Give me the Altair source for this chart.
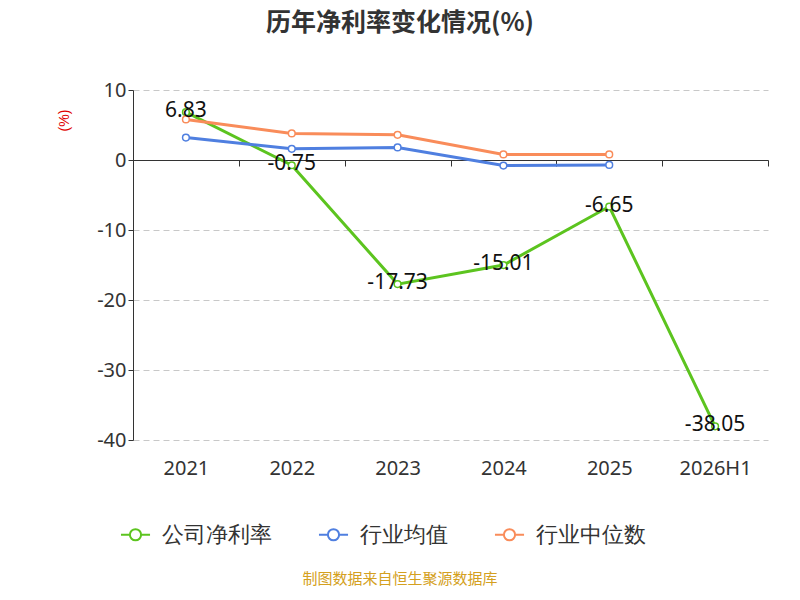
import altair as alt
import pandas as pd

years = ["2021", "2022", "2023", "2024", "2025", "2026H1"]
company = [6.83, -0.75, -17.73, -15.01, -6.65, -38.05]
ind_avg = [3.2, 1.6, 1.8, -0.8, -0.7, None]
ind_med = [5.8, 3.8, 3.6, 0.8, 0.8, None]
series = ["公司净利率", "行业均值", "行业中位数"]
colors = ["#5cc41f", "#4f7fe0", "#f98c5a"]

rows = []
for name, vals in zip(series, [company, ind_avg, ind_med]):
    for y, v in zip(years, vals):
        if v is not None:
            rows.append({"year": y, "value": v, "series": name})
df = pd.DataFrame(rows)
lab = pd.DataFrame({"year": years, "value": company, "txt": [f"{v:.2f}" for v in company]})

x = alt.X("year:N", sort=years, scale=alt.Scale(paddingInner=0, paddingOuter=0), title=None,
          axis=alt.Axis(orient="bottom", offset=-280, labelPadding=292, labelFontSize=20,
                        labelColor="#333", labelAngle=0, tickBand="extent", tickSize=6,
                        domainColor="#333", tickColor="#333", labelFont="Noto Sans"))
y = alt.Y("value:Q", scale=alt.Scale(domain=[-40, 10], nice=False),
          axis=alt.Axis(values=[-40, -30, -20, -10, 0, 10], title="(%)", titleColor="#e00000",
                        titleFontWeight="normal", titleFontSize=14, titleX=-62, titleY=30,
                        labelFontSize=20, labelColor="#333", domainColor="#333",
                        labelExpr="replace(datum.label, '−', '-')",
                        tickColor="#333", gridDash=[6, 4], gridColor="#c8c8c8",
                        labelFont="Noto Sans"))
color = alt.Color("series:N", sort=series, scale=alt.Scale(domain=series, range=colors),
                  legend=alt.Legend(orient="none", legendX=-10, legendY=432, direction="horizontal",
                                    title=None, labelFontSize=22, labelColor="#333",
                                    symbolType="M-1.3,0L-0.5,0M0.5,0L1.3,0M0.5,0A0.5,0.5 0 1,1 -0.5,0A0.5,0.5 0 1,1 0.5,0",
                                    symbolSize=500, symbolStrokeWidth=2, symbolFillColor="white",
                                    labelOffset=14, columnPadding=42, labelFont="Noto Sans"))

base = alt.Chart(df)
lines = base.mark_line(strokeWidth=3).encode(x=x, y=y, color=color)
pts = base.mark_point(filled=True, fill="white", size=45, strokeWidth=1.5, opacity=1).encode(
    x=x, y=y, stroke=alt.Color("series:N", sort=series, scale=alt.Scale(domain=series, range=colors), legend=None))
texts = alt.Chart(lab).mark_text(fontSize=21, color="#111", baseline="middle", dy=-1,
                                 font="Noto Sans").encode(x=x, y=y, text="txt:N")
src = alt.Chart(pd.DataFrame({"t": ["制图数据来自恒生聚源数据库"]})).mark_text(
    fontSize=15, color="#d4a020", font="Noto Sans CJK SC", baseline="middle").encode(
    x=alt.value(267), y=alt.value(489), text="t:N")
ttl = alt.Chart(pd.DataFrame({"t": ["历年净利率变化情况(%)"]})).mark_text(
    fontSize=25, fontWeight="bold", color="#333", font="Noto Sans CJK SC", baseline="middle").encode(
    x=alt.value(267), y=alt.value(-67), text="t:N")

chart = alt.layer(lines, pts, texts, src, ttl).properties(
    width=635, height=350,
    autosize=alt.AutoSizeParams(type="none"),
    padding={"left": 125, "top": 82, "right": 24, "bottom": 152},
).configure_view(stroke=None).resolve_scale(stroke="independent")

chart.save("out.html", embed_options={"renderer": "svg", "actions": False})
